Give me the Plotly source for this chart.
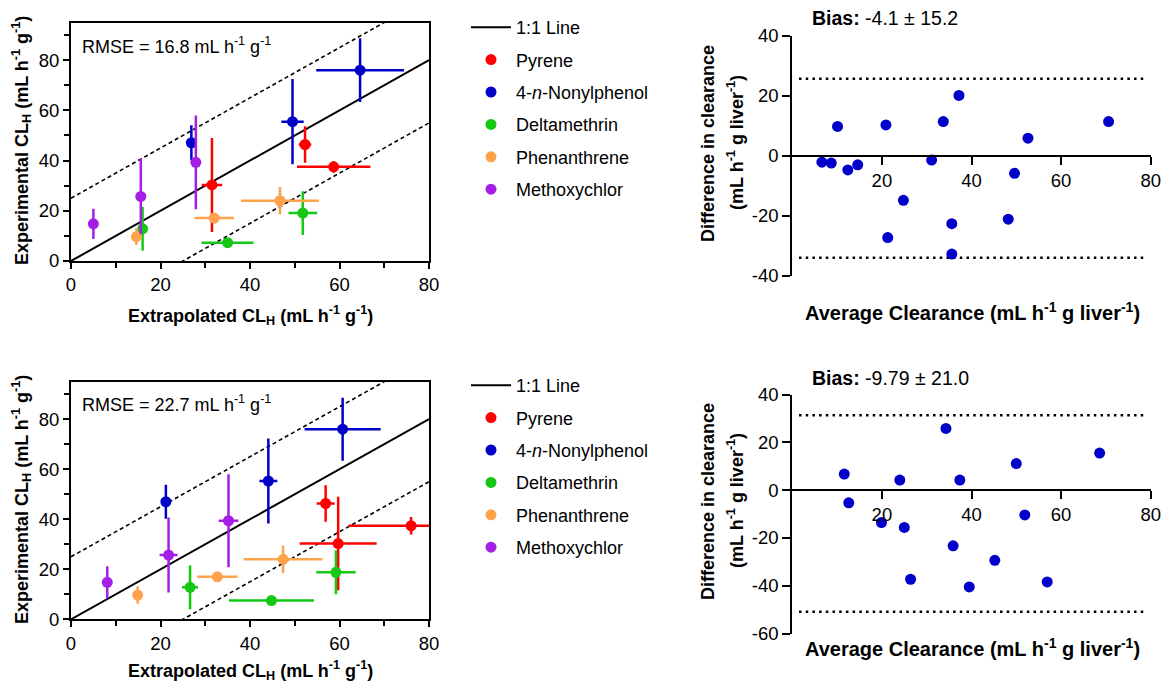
import plotly.graph_objects as go

# ---------------- data ----------------
compounds = ["Pyrene", "4-<i>n</i>-Nonylphenol", "Deltamethrin", "Phenanthrene", "Methoxychlor"]
colors = ["#FF0000", "#0000C8", "#14C814", "#FFA24C", "#A41EE6"]

# top panel (set A): extrapolated x, experimental y, errors
top_x = [[31.5, 52.3, 58.7], [26.9, 49.5, 64.6], [16.0, 35.0, 51.8], [14.6, 32.0, 46.7], [5.0, 15.6, 27.9]]
top_y = [[30.3, 46.4, 37.5], [47.1, 55.5, 76.0], [12.8, 7.3, 19.1], [9.7, 17.1, 24.0], [14.8, 25.7, 39.3]]
top_xerr = [[2.3, 1.4, 8.2], [0.8, 2.5, 9.8], [0.8, 5.8, 3.2], [1.0, 4.4, 8.7], [0.5, 0.8, 1.0]]
top_yerr = [[18.7, 7.3, 2.3], [7.0, 17.0, 12.7], [8.7, 1.0, 8.7], [3.3, 1.5, 5.5], [6.0, 15.0, 18.7]]

# bottom panel (set B)
bot_x = [[56.9, 59.7, 76.0], [21.2, 44.1, 60.7], [26.6, 44.8, 59.2], [14.9, 32.7, 47.4], [8.1, 21.8, 35.2]]
bot_y = [[46.3, 30.3, 37.4], [47.0, 55.3, 76.0], [12.8, 7.5, 18.8], [9.7, 17.0, 24.0], [14.8, 25.7, 39.4]]
bot_xerr = [[2.0, 8.6, 14.0], [0.8, 2.0, 8.5], [1.8, 9.5, 4.4], [0.8, 4.5, 8.8], [0.8, 2.0, 2.2]]
bot_yerr = [[7.3, 18.7, 3.5], [6.8, 17.0, 12.6], [8.8, 1.0, 8.8], [3.5, 1.5, 5.5], [6.4, 15.0, 18.6]]

rmse_top = 16.8
rmse_bot = 22.7
band_offsets = [25, -25]
line_x = [0, 80]

# Bland-Altman
ba_top_avg = [6.6, 8.7, 10.1, 12.4, 14.6, 20.9, 21.3, 24.8, 31.1, 33.7, 37.2, 35.6, 35.6, 48.2, 49.6, 52.6, 70.6]
ba_top_diff = [-2.1, -2.4, 9.8, -4.7, -3.0, 10.3, -27.2, -14.8, -1.4, 11.4, 20.1, -22.6, -32.7, -21.1, -5.8, 5.9, 11.4]
ba_bot_avg = [11.6, 12.6, 19.9, 24.0, 25.0, 26.4, 34.3, 35.9, 37.4, 39.5, 45.2, 50.0, 51.9, 56.9, 68.6]
ba_bot_diff = [6.7, -5.3, -13.6, 4.2, -15.6, -37.3, 25.8, -23.3, 4.2, -40.5, -29.4, 11.1, -10.4, -38.4, 15.5]
bias_top, sd_top, bias_top_txt = -4.1, 15.2, "-4.1 ± 15.2"
bias_bot, sd_bot, bias_bot_txt = -9.79, 21.0, "-9.79 ± 21.0"
loa_x = [1.5, 79]

# ---------------- figure ----------------
W, H = 1162, 685
FONT = "Arial, Liberation Sans, sans-serif"
fig = go.Figure()

def px_x(p):
    return p / W

def px_y(p):
    return 1 - p / H

def add_left(xs, ys, xe, ye, xa, ya, legend):
    fig.add_trace(go.Scatter(x=line_x, y=line_x, mode="lines", line=dict(color="black", width=2),
                             name="1:1 Line", xaxis=xa, yaxis=ya, legend=legend, legendgroup="g0" + legend))
    for off in band_offsets:
        fig.add_trace(go.Scatter(x=line_x, y=[v + off for v in line_x], mode="lines",
                                 line=dict(color="black", width=1.6, dash="4px,3px"),
                                 showlegend=False, xaxis=xa, yaxis=ya, hoverinfo="skip"))
    for i, name in enumerate(compounds):
        fig.add_trace(go.Scatter(
            x=xs[i], y=ys[i], mode="markers", name=name,
            marker=dict(color=colors[i], size=11),
            error_x=dict(type="data", array=xe[i], color=colors[i], thickness=2.5, width=0),
            error_y=dict(type="data", array=ye[i], color=colors[i], thickness=2.5, width=0),
            xaxis=xa, yaxis=ya, legend=legend, legendgroup="g%d%s" % (i + 1, legend)))

add_left(top_x, top_y, top_xerr, top_yerr, "x", "y", "legend")
add_left(bot_x, bot_y, bot_xerr, bot_yerr, "x3", "y3", "legend2")

def add_ba(avg, diff, bias, sd, xa, ya):
    for lim in [bias + 1.96 * sd, bias - 1.96 * sd]:
        fig.add_trace(go.Scatter(x=loa_x, y=[lim, lim], mode="lines",
                                 line=dict(color="black", width=2.5, dash="2.5px,4.2px"),
                                 showlegend=False, xaxis=xa, yaxis=ya, hoverinfo="skip"))
    fig.add_trace(go.Scatter(x=avg, y=diff, mode="markers", marker=dict(color="#0000C8", size=11),
                             showlegend=False, xaxis=xa, yaxis=ya))

add_ba(ba_top_avg, ba_top_diff, bias_top, sd_top, "x2", "y2")
add_ba(ba_bot_avg, ba_bot_diff, bias_bot, sd_bot, "x4", "y4")

tickfont = dict(family=FONT, size=18.5, color="black")
axcommon = dict(showline=True, linecolor="black", linewidth=2, ticks="outside", ticklen=6,
                tickwidth=2, tickcolor="black", showgrid=False, zeroline=False, tickfont=tickfont,
                automargin=False)

left_dom_x = [px_x(71), px_x(429)]
right_dom_x = [px_x(792.3), px_x(1150.7)]

def left_axes(xname, yname, ytop_px, ybot_px, xanchor, yanchor):
    fig.layout[xname] = dict(axcommon, domain=left_dom_x, range=[0, 80], anchor=yanchor,
                             tickvals=[0, 20, 40, 60, 80], mirror=True,
                             minor=dict(tickvals=[10, 30, 50, 70], ticks="outside", ticklen=5, tickwidth=2, tickcolor="black"))
    fig.layout[yname] = dict(axcommon, domain=[px_y(ybot_px), px_y(ytop_px)], range=[0, 95], anchor=xanchor,
                             tickvals=[0, 20, 40, 60, 80], mirror=True,
                             minor=dict(tickvals=[10, 30, 50, 70, 90], ticks="outside", ticklen=5, tickwidth=2, tickcolor="black"))

left_axes("xaxis", "yaxis", 22.5, 261, "x", "y")
left_axes("xaxis3", "yaxis3", 381.7, 619.3, "x3", "y3")

def right_axes(xname, yname, ytop_px, ybot_px, zero_px, yr, yanchor, xanchor):
    fig.layout[xname] = dict(axcommon, domain=right_dom_x, range=[0, 80], anchor="free",
                             position=px_y(zero_px), tickvals=[20, 40, 60, 80], ticklen=8)
    yt = list(range(yr[0], yr[1] + 1, 20))
    fig.layout[yname] = dict(axcommon, domain=[px_y(ybot_px), px_y(ytop_px)], range=yr, anchor=xanchor,
                             tickvals=yt, ticktext=[str(v) for v in yt], ticklen=8)

right_axes("xaxis2", "yaxis2", 35.7, 276, 156, [-40, 40], "y2", "x2")
right_axes("xaxis4", "yaxis4", 394.5, 633.5, 490, [-60, 40], "y4", "x4")

legfont = dict(family=FONT, size=18, color="black")
leg = dict(font=legfont, bgcolor="rgba(0,0,0,0)", xanchor="left", yanchor="top",
           tracegroupgap=6, traceorder="grouped", itemwidth=40)
fig.update_layout(
    legend=dict(leg, x=px_x(466), y=px_y(9)),
    legend2=dict(leg, x=px_x(466), y=px_y(367)),
)

ann = []
def text(x, y, s, size=18, angle=0, xanchor="center"):
    ann.append(dict(x=px_x(x), y=px_y(y), xref="paper", yref="paper", text=s, showarrow=False,
                    textangle=angle, xanchor=xanchor, yanchor="middle",
                    font=dict(family=FONT, size=size, color="black")))

unit = "(mL h<sup>-1</sup> g<sup>-1</sup>)"
text(250, 316, "<b>Extrapolated CL<sub>H</sub> " + unit + "</b>")
text(250, 670, "<b>Extrapolated CL<sub>H</sub> " + unit + "</b>")
text(21, 141, "<b>Experimental CL<sub>H</sub> " + unit + "</b>", angle=-90)
text(21, 500, "<b>Experimental CL<sub>H</sub> " + unit + "</b>", angle=-90)
text(80, 45, "RMSE = %.1f mL h<sup>-1</sup> g<sup>-1</sup>" % rmse_top, xanchor="left")
text(80, 403, "RMSE = %.1f mL h<sup>-1</sup> g<sup>-1</sup>" % rmse_bot, xanchor="left")

ba_unit = "<b>(mL h<sup>-1</sup> g liver<sup>-1</sup>)</b>"
text(972, 311, "<b>Average Clearance (mL h<sup>-1</sup> g liver<sup>-1</sup>)</b>", size=20)
text(972, 647, "<b>Average Clearance (mL h<sup>-1</sup> g liver<sup>-1</sup>)</b>", size=20)
text(708, 143, "<b>Difference in clearance</b>", angle=-90)
text(735, 143, ba_unit, angle=-90)
text(708, 501, "<b>Difference in clearance</b>", angle=-90)
text(735, 501, ba_unit, angle=-90)
text(810, 18, "<b>Bias:</b> " + bias_top_txt, size=19.5, xanchor="left")
text(810, 378, "<b>Bias:</b> " + bias_bot_txt, size=19.5, xanchor="left")

fig.update_layout(width=W, height=H, margin=dict(l=0, r=0, t=0, b=0, autoexpand=False),
                  plot_bgcolor="white", paper_bgcolor="white", annotations=ann,
                  font=dict(family=FONT, color="black"))

fig.write_html("out.html", config={"displayModeBar": False},
               post_script="document.body.style.margin='0';document.body.style.overflow='hidden';")
